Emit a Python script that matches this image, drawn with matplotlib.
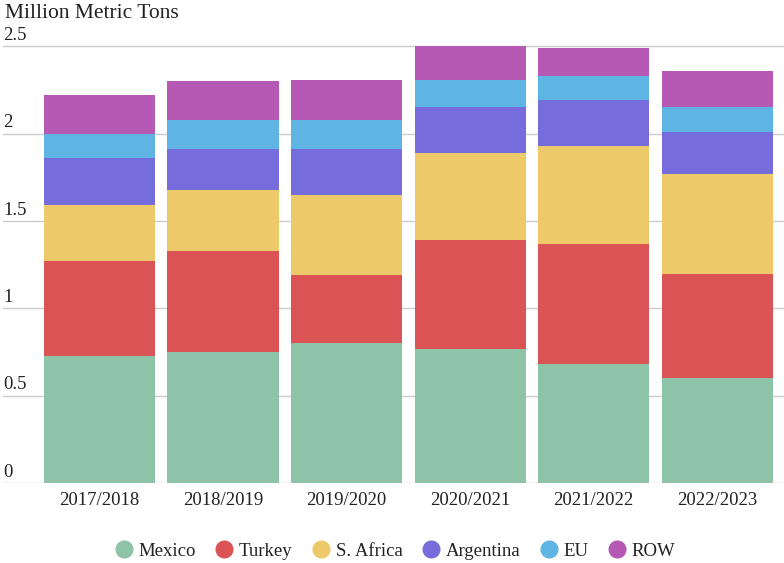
import numpy as np
import matplotlib
matplotlib.use("Agg")
import matplotlib.pyplot as plt
from matplotlib.lines import Line2D
from matplotlib.transforms import offset_copy

plt.rcParams['font.family'] = ['Liberation Serif', 'DejaVu Serif']

# marketing years
years = ["2017/2018", "2018/2019", "2019/2020", "2020/2021", "2021/2022", "2022/2023"]

# million metric tons
mexico = [0.73, 0.75, 0.80, 0.77, 0.68, 0.60]
turkey = [0.54, 0.58, 0.39, 0.62, 0.69, 0.60]
s_africa = [0.32, 0.35, 0.46, 0.50, 0.56, 0.57]
argentina = [0.27, 0.23, 0.26, 0.26, 0.26, 0.24]
eu = [0.14, 0.17, 0.17, 0.16, 0.14, 0.14]
row = [0.22, 0.22, 0.23, 0.19, 0.16, 0.21]

series_names = ["Mexico", "Turkey", "S. Africa", "Argentina", "EU", "ROW"]
colors = ["#8dc3a7", "#dc5356", "#eec96a", "#766cdb", "#5eb5e3", "#b559b5"]

y_ticks = [0, 0.5, 1, 1.5, 2, 2.5]
y_tick_labels = ["0", "0.5", "1", "1.5", "2", "2.5"]

text_color = "#222222"

fig = plt.figure(figsize=(7.84, 5.63), dpi=100)
ax = fig.add_axes([3 / 784, 1 - 483.3 / 563, 781 / 784, (483.3 - 42.8) / 563])

x = np.arange(len(years))
bottom = np.zeros(len(years))
for vals, name, col in zip([mexico, turkey, s_africa, argentina, eu, row], series_names, colors):
    ax.bar(x, vals, width=0.9, bottom=bottom, color=col, label=name, linewidth=0, zorder=2)
    bottom += np.array(vals)

ax.set_ylim(0, 2.52)
ax.set_xlim(-0.78, 5.54)

# gridlines
ax.set_yticks(y_ticks)
ax.yaxis.grid(True, color="#cccccc", linewidth=1.0, zorder=0)
ax.tick_params(axis='y', length=0, labelleft=False)
for s in ax.spines.values():
    s.set_visible(False)

# y labels sit just above their gridlines, inside the plot
trans = offset_copy(ax.get_yaxis_transform(), fig=fig, x=0, y=2.5, units='dots')
for yv, lab in zip(y_ticks, y_tick_labels):
    ax.text(0, yv, lab, transform=trans, ha='left', va='bottom',
            fontsize=13.5, color=text_color)

ax.set_xticks(x)
ax.set_xticklabels(years, fontsize=13.5, color=text_color)
ax.tick_params(axis='x', length=0, pad=6)

fig.text(5 / 784, 1 - 13 / 563, "Million Metric Tons", fontsize=15.5,
         color=text_color, ha='left', va='center')

handles = [Line2D([], [], marker='o', linestyle='none', markersize=12,
                  markerfacecolor=c, markeredgecolor=c) for c in colors]
fig.legend(handles, series_names, loc='center', bbox_to_anchor=(394 / 784, 1 - 551 / 563),
           ncol=6, frameon=False, fontsize=13.5, handletextpad=0.2,
           columnspacing=0.9, handlelength=1.2, labelcolor=text_color)

fig.savefig("out.png", dpi=100)
